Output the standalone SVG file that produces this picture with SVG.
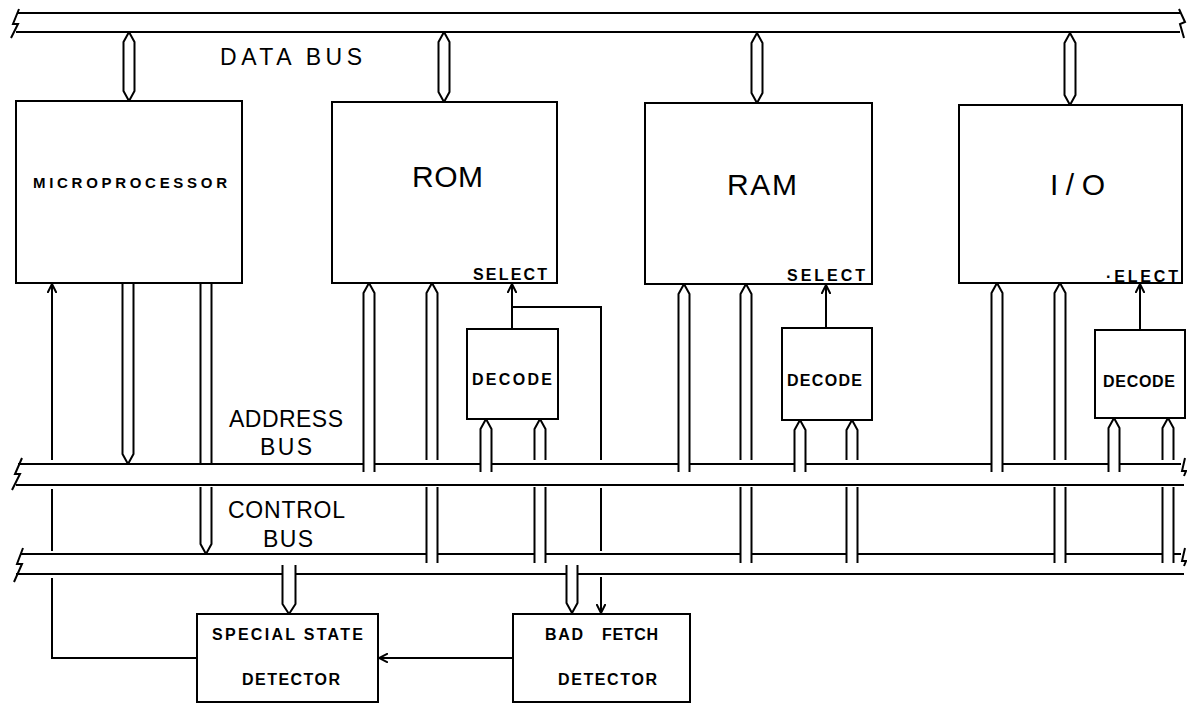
<svg xmlns="http://www.w3.org/2000/svg" width="1187" height="705" viewBox="0 0 1187 705">
<defs>
<style>
.ln{fill:none;stroke:#000;stroke-width:2;stroke-linejoin:miter}
.box{fill:#fff;stroke:#000;stroke-width:2}
.pipe{fill:none;stroke:#000;stroke-width:2;stroke-linejoin:round}
.dbl{fill:#fff;stroke:#000;stroke-width:2;stroke-linejoin:round}
.t{font-family:"Liberation Sans",Arial,sans-serif;fill:#000}
.bl{font-size:23px}
.big{font-size:30px}
.sm{font-size:16px;font-weight:bold}
.mp{font-size:15px;font-weight:bold}
</style>
<marker id="ah" viewBox="0 0 10 10" refX="9" refY="5" markerWidth="10" markerHeight="10" markerUnits="userSpaceOnUse" orient="auto">
<path d="M0,0.5 L9,5 L0,9.5" fill="none" stroke="#000" stroke-width="2"/>
</marker>
</defs>
<rect width="1187" height="705" fill="#fff"/>

<g id="data-bus">
<path class="ln" d="M18,13 H1180 M16,32 H1180"/>
<path class="ln" d="M19,9 L13,24 L18,24 L11,38"/>
<path class="ln" d="M1179,9 L1185,22 L1180,24 L1184,38"/>
<text class="t bl" x="220" y="65" textLength="142" lengthAdjust="spacing">DATA BUS</text>
</g>

<g id="address-bus">
<path class="ln" d="M18,464 H363.5 M374.5,464 H480.5 M491.5,464 H678.5 M689.5,464 H794.5 M805.5,464 H991.5 M1002.5,464 H1108.5 M1119.5,464 H1181 M16,485 H1184"/>
<path class="ln" d="M22,458 L15,474 L20,474 L12,490"/>
<path class="ln" d="M1185,458 L1182,471 L1186,471 L1184,476"/>
<text class="t bl" x="229" y="427" textLength="114" lengthAdjust="spacing">ADDRESS</text>
<text class="t bl" x="260" y="455" textLength="52" lengthAdjust="spacing">BUS</text>
</g>

<g id="control-bus">
<path class="ln" d="M20,554 H426.5 M437.5,554 H534.5 M545.5,554 H740.5 M751.5,554 H846.5 M857.5,554 H1054.5 M1065.5,554 H1162.5 M1173.5,554 H1181 M16,574 H282.5 M295.5,574 H566.5 M577.5,574 H1184"/>
<path class="ln" d="M23,548 L17,564 L22,564 L14,582"/>
<path class="ln" d="M1185,548 L1182,561 L1186,561 L1184,566"/>
<text class="t bl" x="228" y="518" textLength="117" lengthAdjust="spacing">CONTROL</text>
<text class="t bl" x="263" y="547" textLength="50" lengthAdjust="spacing">BUS</text>
</g>

<g id="microprocessor">
<rect class="box" x="16" y="101" width="226" height="182"/>
<text class="t mp" x="33" y="188" textLength="194" lengthAdjust="spacing">MICROPROCESSOR</text>
</g>

<g id="rom">
<rect class="box" x="332" y="102" width="225" height="181"/>
<text class="t big" x="412" y="187" textLength="71" lengthAdjust="spacing">ROM</text>
<text class="t sm" x="473" y="280" textLength="74" lengthAdjust="spacing">SELECT</text>
</g>

<g id="ram">
<rect class="box" x="645" y="103" width="227" height="181"/>
<text class="t big" x="727" y="195" textLength="70" lengthAdjust="spacing">RAM</text>
<text class="t sm" x="787" y="281" textLength="78" lengthAdjust="spacing">SELECT</text>
</g>

<g id="io">
<rect class="box" x="959" y="105" width="223" height="178"/>
<text class="t big" x="1050" y="195" textLength="55" lengthAdjust="spacing">I/O</text>
<text class="t sm" x="1106" y="282" textLength="72" lengthAdjust="spacing">·ELECT</text>
</g>

<g id="decode-rom">
<rect class="box" x="467" y="329" width="91" height="90"/>
<text class="t sm" x="472" y="385" textLength="80" lengthAdjust="spacing">DECODE</text>
</g>

<g id="decode-ram">
<rect class="box" x="782" y="328" width="90" height="92"/>
<text class="t sm" x="787" y="386" textLength="75" lengthAdjust="spacing">DECODE</text>
</g>

<g id="decode-io">
<rect class="box" x="1095" y="330" width="90" height="88"/>
<text class="t sm" x="1103" y="387" textLength="72" lengthAdjust="spacing">DECODE</text>
</g>

<g id="special-state-detector">
<rect class="box" x="197" y="614" width="181" height="88"/>
<text class="t sm" x="212" y="640" textLength="151" lengthAdjust="spacing">SPECIAL STATE</text>
<text class="t sm" x="242" y="685" textLength="98" lengthAdjust="spacing">DETECTOR</text>
</g>

<g id="bad-fetch-detector">
<rect class="box" x="513" y="614" width="177" height="88"/>
<text class="t sm" x="545" y="640" textLength="38" lengthAdjust="spacing">BAD</text>
<text class="t sm" x="602" y="640" textLength="56" lengthAdjust="spacing">FETCH</text>
<text class="t sm" x="558" y="685" textLength="99" lengthAdjust="spacing">DETECTOR</text>
</g>

<g id="connectors">
<path class="dbl" d="M129,32 L134.5,42 V91 L129,101 L123.5,91 V42 Z"/>
<path class="dbl" d="M444,32 L449.5,42 V92 L444,102 L438.5,92 V42 Z"/>
<path class="dbl" d="M757,33 L762.5,43 V93 L757,103 L751.5,93 V43 Z"/>
<path class="dbl" d="M1070,33 L1075.5,43 V95 L1070,105 L1064.5,95 V43 Z"/>

<path class="pipe" d="M122.5,283 V454 L128,464 L133.5,454 V283"/>
<path class="pipe" d="M200.5,283 V464 M211.5,283 V464"/>
<path class="pipe" d="M200.5,487 V544 L206,554 L211.5,544 V487"/>

<path class="pipe" d="M363.5,472 V293 L369,283 L374.5,293 V472"/>
<path class="pipe" d="M426.5,460 V293 L432,283 L437.5,293 V460"/>
<path class="pipe" d="M426.5,487 V563 M437.5,487 V563"/>
<path class="pipe" d="M480.5,472 V429 L486,419 L491.5,429 V472"/>
<path class="pipe" d="M534.5,460 V429 L540,419 L545.5,429 V460"/>
<path class="pipe" d="M534.5,487 V563 M545.5,487 V563"/>

<path class="pipe" d="M678.5,472 V294 L684,284 L689.5,294 V472"/>
<path class="pipe" d="M740.5,460 V294 L746,284 L751.5,294 V460"/>
<path class="pipe" d="M740.5,487 V563 M751.5,487 V563"/>
<path class="pipe" d="M794.5,472 V430 L800,420 L805.5,430 V472"/>
<path class="pipe" d="M846.5,460 V430 L852,420 L857.5,430 V460"/>
<path class="pipe" d="M846.5,487 V563 M857.5,487 V563"/>

<path class="pipe" d="M991.5,472 V293 L997,283 L1002.5,293 V472"/>
<path class="pipe" d="M1054.5,460 V293 L1060,283 L1065.5,293 V460"/>
<path class="pipe" d="M1054.5,487 V563 M1065.5,487 V563"/>
<path class="pipe" d="M1108.5,472 V428 L1114,418 L1119.5,428 V472"/>
<path class="pipe" d="M1162.5,460 V428 L1168,418 L1173.5,428 V460"/>
<path class="pipe" d="M1162.5,487 V563 M1173.5,487 V563"/>

<path class="pipe" d="M282.5,565 V604 L289,614 L295.5,604 V565"/>
<path class="pipe" d="M566.5,565 V603 L572,613 L577.5,603 V565"/>

<path class="ln" d="M512,329 V284" marker-end="url(#ah)"/>
<path class="ln" d="M512,307 H601 V460 M601,488 V551"/>
<path class="ln" d="M601,577 V613" marker-end="url(#ah)"/>
<path class="ln" d="M826,328 V285" marker-end="url(#ah)"/>
<path class="ln" d="M1140,330 V284" marker-end="url(#ah)"/>

<path class="ln" d="M513,658 H379" marker-end="url(#ah)"/>
<path class="ln" d="M197,658 H52 V578 M52,551 V489"/>
<path class="ln" d="M52,460 V284" marker-end="url(#ah)"/>
</g>
</svg>
